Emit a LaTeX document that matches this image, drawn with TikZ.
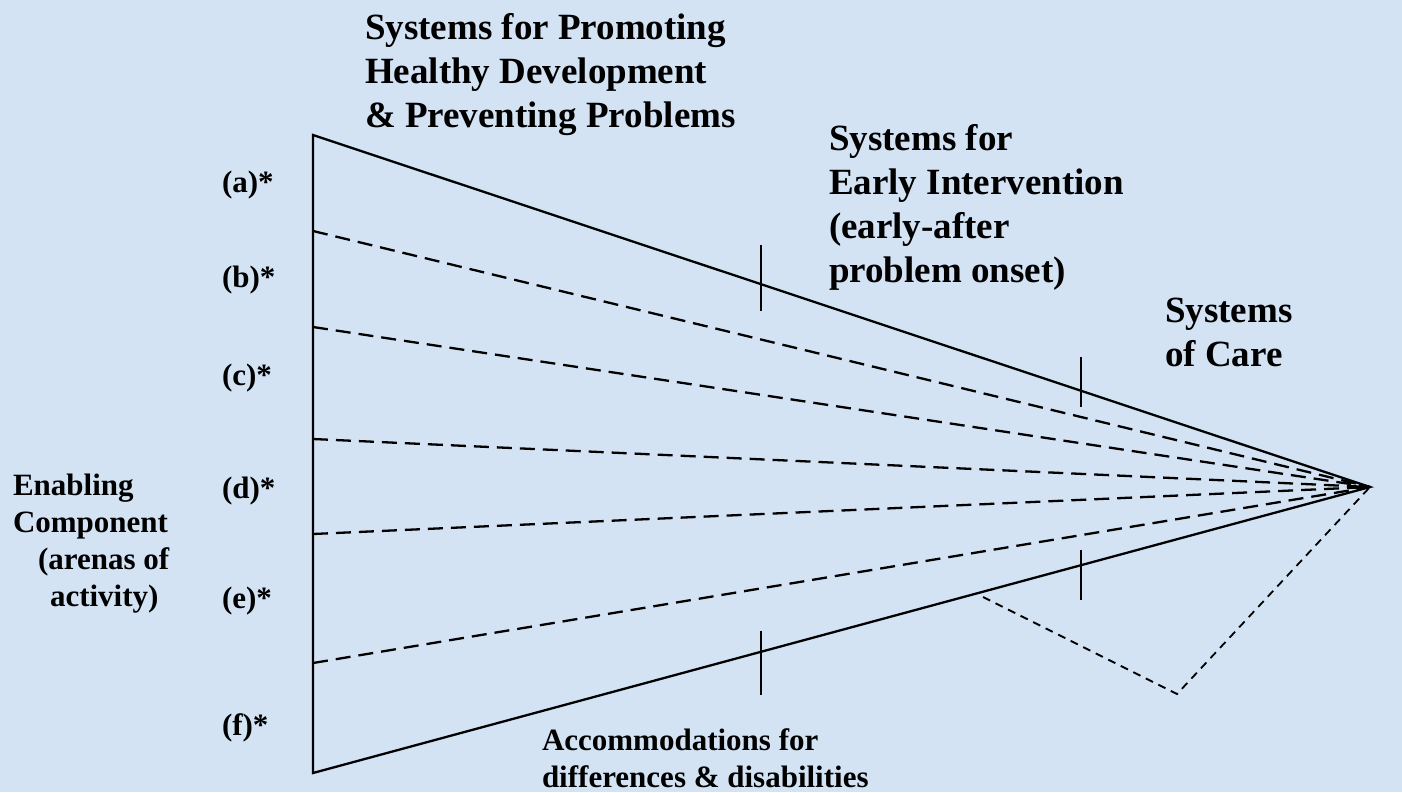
\documentclass[tikz,border=0pt]{standalone}
\usepackage{fontspec}
\setmainfont{Liberation Serif}
\usepackage{tikz}
\usetikzlibrary{positioning}
\usetikzlibrary{calc}
\definecolor{paleblue}{RGB}{211,227,244}

\begin{document}
\begin{tikzpicture}[x=1pt,y=-1pt,line width=2.3pt,
                    big text/.style={font=\fontsize{37}{44}\selectfont\bfseries,
                            align=left,anchor=north west,inner sep=0, outer sep=0},
                    small text/.style={font=\fontsize{31}{37}\selectfont\bfseries,
                            align=left,inner sep=0, outer sep=0},
                    arena line/.style={dash pattern=on 15pt off 8pt},
                    care line/.style={line width=1.8pt,dash pattern=on 8pt off 6pt},
                    tick/.style={line width=2.3pt}]

                \fill[paleblue] (0,0) rectangle (1402,792);
                \useasboundingbox (0,0) rectangle (1402,792);

                % corners of the wedge
                \coordinate (top) at (313,135);
                \coordinate (bottom) at (313,773);
                \coordinate (apex) at (1370,487);
                \coordinate (care start) at (983,597);
                \coordinate (care low) at (1177,694);

                % headings
                \node[big text] (promote) at (365,13) {Systems for Promoting\\Healthy Development\\\& Preventing Problems};
                \node[big text] (early) at (829,124) {Systems for\\Early Intervention\\(early-after\\problem onset)};
                \node[big text] (care) at (1165,298) {Systems\\of Care};
                \node[small text,anchor=north west] (enabling) at (13,474) {Enabling\\Component\\\hspace*{25pt}(arenas of\\\hspace*{37pt}activity)};
                \node[small text,anchor=north west] (accommodate) at (542,729) {Accommodations for\\differences \& disabilities};

                % arena labels
                \foreach \lbl/\yy in {a/192,b/287,c/385,d/498,e/608,f/735}
                    \node[small text,anchor=base west] (arena \lbl) at (222,\yy) {(\lbl)*};

                % the wedge
                \draw (top) -- (bottom) -- (apex) -- cycle;
                \foreach \yy [count=\i] in {231,327,439,534,663} {
                    \coordinate (split \i) at (313,\yy);
                    \draw[arena line] (split \i) -- (apex);
                }
                \draw[care line] (care start) -- (care low) -- (apex);

                % stage ticks
                \foreach \xx/\ya/\yb [count=\i] in {761/245/311,1081/357/407,1081/550/600,761/631/695} {
                    \coordinate (tick top \i) at (\xx,\ya);
                    \coordinate (tick end \i) at (\xx,\yb);
                    \draw[tick] (tick top \i) -- (tick end \i);
                }
            \end{tikzpicture}
\end{document}
